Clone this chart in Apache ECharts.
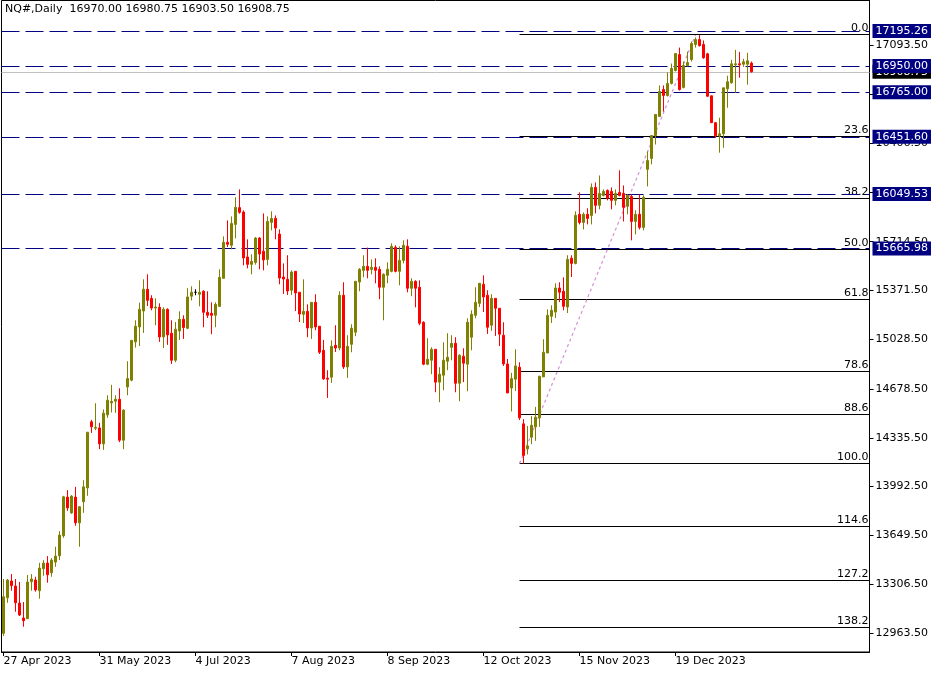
<!DOCTYPE html>
<html><head><meta charset="utf-8">
<script src="https://cdn.jsdelivr.net/npm/echarts@6/dist/echarts.min.js"></script>
<style>html,body{margin:0;padding:0;background:#fff}#c{width:942px;height:675px}</style>
</head><body><div id="c"></div>
<script>
const symbolName = 'NQ#';
const timeframe = 'Daily';
const firstDate = '2023-04-27';
const futureSlots = 29;
const labelEvery = 24;

const opens = [12961,13211,13329,13294,13174,13069,13064,13324,13336,13261,
13415,13455,13387,13462,13506,13647,13919,13808,13919,13738,
13886,13984,14448,14403,14405,14293,14497,14581,14593,14607,
14319,14693,14741,15010,15115,15227,15380,15316,15248,15253,
15045,15239,15071,14881,15087,15169,15106,15331,15359,15345,
15366,15218,15211,15197,15260,15457,15710,15689,15836,15954,
15923,15607,15555,15569,15740,15647,15590,15850,15878,15768,
15466,15450,15373,15506,15359,15204,15225,15108,15288,15120,
14951,14755,14762,14986,14967,15338,14834,14993,15078,15431,
15513,15541,15520,15534,15520,15394,15478,15506,15675,15506,
15583,15682,15387,15436,15394,15148,14853,14881,14958,14727,
14776,14874,14972,15000,14719,14909,14853,15043,15197,15281,
15415,15338,15127,15316,15246,15057,14855,14686,14748,14832,
14434,14258,14340,14413,14476,14764,14932,15190,15220,15389,
15366,15255,15598,15562,15907,15850,15907,15899,16096,15970,
16040,16075,16068,16005,16061,16054,15963,16033,15857,15907,
15815,16223,16300,16461,16595,16784,16742,16827,16918,17030,
16799,16953,16995,17101,17136,17101,17035,16740,16551,16459,
16473,16789,16832,16958,16965,16962,16962,16970];

const highs = [13343,13343,13378,13343,13322,13181,13371,13378,13359,13457,
13476,13504,13490,13570,13680,13928,13968,13933,13991,13856,
14038,14375,14462,14579,14441,14535,14635,14708,14635,14684,
14537,14874,15021,15162,15286,15450,15485,15338,15316,15281,
15253,15246,15162,15150,15225,15197,15387,15401,15380,15443,
15373,15366,15288,15288,15520,15752,15864,15892,16026,16082,
15935,15731,15626,15747,15747,15913,15892,15928,15899,15801,
15562,15619,15513,15506,15359,15450,15274,15288,15345,15120,
15024,14811,15021,15127,15366,15429,15057,15134,15436,15529,
15619,15673,15590,15598,15541,15492,15569,15703,15689,15682,
15724,15731,15457,15443,15443,15155,15036,14972,14958,14832,
15007,15071,15057,15043,14923,14965,15176,15232,15394,15422,
15478,15373,15345,15316,15246,15148,14890,14792,14958,14867,
14467,14419,14488,14553,14769,15029,15239,15267,15422,15429,
15464,15619,15619,15928,16061,15920,15949,16124,16131,16180,
16082,16082,16096,16082,16216,16110,16047,16047,15935,16047,
16040,16349,16461,16609,16813,16813,16904,16967,17037,17079,
16981,17051,17122,17150,17168,17129,17042,16740,16555,16586,
16796,16881,16993,17063,17049,17000,17042,16980.75];

const lows = [12943,13176,13261,13113,13083,13008,13064,13261,13254,13205,
13366,13317,13359,13429,13476,13633,13822,13801,13717,13570,
13808,13928,14370,14389,14256,14251,14476,14514,14511,14305,
14256,14635,14733,14970,14981,15073,15262,15232,15127,15010,
14967,14989,14855,14867,15024,15031,15099,15302,15338,15260,
15113,15178,15064,15113,15255,15457,15677,15661,15738,15911,
15548,15527,15485,15553,15520,15513,15548,15794,15731,15415,
15347,15340,15340,15227,15150,15143,15043,15031,15092,14925,
14743,14616,14722,14939,14951,14820,14757,14937,15050,15366,
15464,15457,15485,15422,15310,15162,15422,15499,15499,15408,
15562,15359,15331,15253,15127,14846,14846,14783,14656,14586,
14670,14811,14881,14656,14593,14727,14663,14951,15176,15255,
15220,15066,15087,15052,14981,14841,14651,14521,14665,14460,
14155,14219,14291,14314,14413,14764,14932,15143,15178,15290,
15232,15213,15466,15555,15836,15801,15836,15836,15913,15942,
16033,16005,15942,15970,16033,15857,15907,15724,15766,15801,
15794,16103,16258,16398,16595,16630,16735,16820,16911,16777,
16792,16946,16981,17079,17086,17000,16733,16548,16445,16340,
16375,16656,16825,16761,16867,16944,16818,16903.5];

const closes = [13218,13336,13296,13176,13090,13050,13322,13343,13266,13420,
13455,13373,13476,13504,13652,13921,13843,13926,13738,13851,
13991,14375,14413,14410,14293,14509,14600,14591,14607,14319,
14530,14752,15021,15120,15239,15380,15302,15248,15255,15045,
15239,15059,14881,15099,15169,15111,15326,15359,15359,15359,
15218,15197,15197,15274,15464,15710,15696,15843,15956,15921,
15600,15555,15576,15740,15628,15586,15857,15878,15810,15459,
15452,15368,15501,15354,15206,15225,15108,15288,15115,14937,
14750,14748,14979,14967,15338,14834,14979,15106,15436,15520,
15541,15513,15534,15513,15394,15485,15520,15682,15506,15583,
15689,15387,15436,15387,15141,14853,14888,14958,14727,14783,
14881,14902,15000,14719,14916,14860,15148,15204,15288,15422,
15326,15113,15316,15246,15064,14855,14651,14752,14841,14476,
14212,14279,14424,14481,14769,14937,15197,15232,15389,15359,
15260,15590,15562,15900,15850,15907,15878,16096,15970,16054,
16068,16019,16005,16054,16040,15956,16040,15857,15907,15815,
16026,16286,16461,16609,16770,16742,16827,16932,17037,16784,
16953,16974,17108,17136,17093,17007,16737,16551,16459,16473,
16796,16839,16965,16965,16958,16979,16986,16908.75];

const priceTicks = [12963.5,13306.5,13649.5,13992.5,14335.5,14678.5,15028.5,15371.5,15714.5,16063.5,16406.5,16750.5,17093.5];
const levelPrices = [17195.26,16950.00,16765.00,16451.60,16049.53,15665.98];

const fibHigh = 17168;
const fibLow = 14155;
const fibStartIndex = 129;
const fibEndIndex = 173;
const fibLevels = [0,23.6,38.2,50,61.8,78.6,88.6,100,114.6,127.2,138.2];

// categories: trading weekdays from firstDate, then empty future slots
const MON = ['Jan','Feb','Mar','Apr','May','Jun','Jul','Aug','Sep','Oct','Nov','Dec'];
const categories = [];
{
  let d = new Date(firstDate + 'T00:00:00Z');
  while (categories.length < closes.length) {
    const wd = d.getUTCDay();
    if (wd !== 0 && wd !== 6) categories.push(d.getUTCDate() + ' ' + MON[d.getUTCMonth()] + ' ' + d.getUTCFullYear());
    d = new Date(d.getTime() + 86400000);
  }
  for (let i = 0; i < futureSlots; i++) categories.push('');
}
const showTick = (i) => i % labelEvery === 0 && i < closes.length - 8;

const candleData = closes.map((c, i) => [opens[i], c, lows[i], highs[i]]);
const n = closes.length;
const FONT = 'DejaVu Sans';

const chart = echarts.init(document.getElementById('c'), null, {renderer: 'canvas'});
chart.setOption({
  animation: false,
  backgroundColor: '#ffffff',
  grid: {left: 1.5, right: 72.5, top: 0.5, bottom: 23, show: true, borderColor: '#000', borderWidth: 1, backgroundColor: 'transparent'},
  xAxis: {
    type: 'category', data: categories, boundaryGap: true,
    axisLine: {show: true, lineStyle: {color: '#000', width: 1}},
    axisTick: {show: true, alignWithLabel: true, interval: showTick, length: 4, lineStyle: {color: '#000'}},
    axisLabel: {show: true, interval: showTick, align: 'left', color: '#000', fontFamily: FONT, fontSize: 11, margin: 4},
    splitLine: {show: false}
  },
  yAxis: {
    type: 'value', position: 'right', min: 12830, max: 17410, scale: true,
    splitLine: {show: false},
    axisLine: {show: true, lineStyle: {color: '#000'}},
    axisTick: {show: true, customValues: priceTicks, length: 4, lineStyle: {color: '#000'}},
    axisLabel: {show: true, customValues: priceTicks, formatter: v => Number(v).toFixed(2), color: '#000', fontFamily: FONT, fontSize: 11, margin: 6}
  },
  graphic: [{
    type: 'text', left: 5, top: 4,
    style: {text: symbolName + ',' + timeframe + '  ' + [opens[n-1], highs[n-1], lows[n-1], closes[n-1]].map(v => v.toFixed(2)).join(' '),
            fill: '#000', font: '11px "' + FONT + '"'}
  }],
  series: [
    {
      type: 'custom', name: 'fib', silent: true, z: 1,
      data: fibLevels.map(l => [fibStartIndex, fibHigh - l / 100 * (fibHigh - fibLow), l]),
      renderItem: (params, api) => {
        const p = api.coord([api.value(0), api.value(1)]);
        const cs = params.coordSys;
        const right = cs.x + cs.width;
        const y = Math.round(p[1] - 0.5) + 0.5;
        return {type: 'group', children: [
          {type: 'line', shape: {x1: p[0], y1: y, x2: right, y2: y}, style: {stroke: '#000', lineWidth: 1}},
          {type: 'text', style: {text: api.value(2).toFixed(1), x: right - 1, y: y - 1, align: 'right', verticalAlign: 'bottom', fill: '#000', font: '11px "' + FONT + '"'}}
        ]};
      }
    },
    {
      type: 'custom', name: 'trend', silent: true, z: 2,
      data: [[fibStartIndex, fibLow, fibEndIndex, fibHigh]],
      renderItem: (params, api) => {
        const a = api.coord([api.value(0), api.value(1)]);
        const b = api.coord([api.value(2), api.value(3)]);
        return {type: 'line', shape: {x1: a[0], y1: a[1], x2: b[0], y2: b[1]}, style: {stroke: '#D58FD5', lineWidth: 1.2, lineDash: [3, 3]}};
      }
    },
    {
      type: 'candlestick', name: symbolName, data: candleData, barWidth: 2, z: 5,
      itemStyle: {color: '#808000', color0: '#FF0000', borderColor: '#808000', borderColor0: '#FF0000', borderColorDoji: '#000000', borderWidth: 1},
      markLine: {
        silent: true, symbol: ['none', 'none'], animation: false,
        data: [
          {yAxis: closes[n-1], lineStyle: {color: '#C0C0C0', type: 'solid', width: 1},
           label: {show: true, position: 'end', distance: 3, formatter: p => Number(p.value).toFixed(2), color: '#fff', backgroundColor: '#000', padding: [2, 3, 1, 3], fontFamily: FONT, fontSize: 11}}
        ].concat(levelPrices.map(v => ({
          yAxis: v, lineStyle: {color: '#000080', type: [18, 6], width: 1},
          label: {show: true, position: 'end', distance: 3, formatter: p => Number(p.value).toFixed(2), color: '#fff', backgroundColor: '#000080', padding: [2, 3, 1, 3], fontFamily: FONT, fontSize: 11}
        })))
      }
    }
  ]
});
</script>
</body></html>
